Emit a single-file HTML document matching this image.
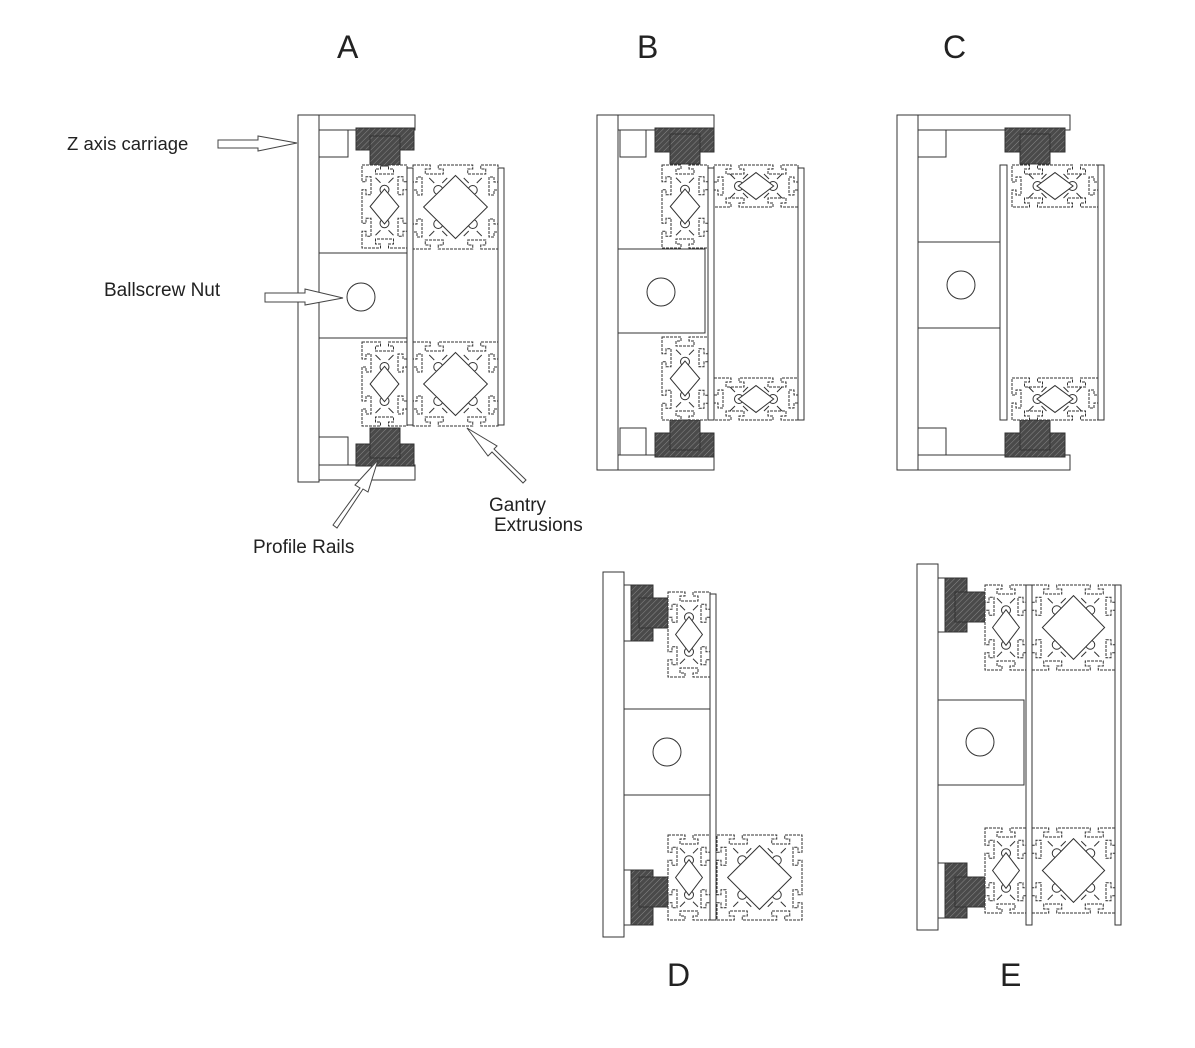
<!DOCTYPE html><html><head><meta charset="utf-8"><style>
html,body{margin:0;padding:0;background:#fff;width:1195px;height:1048px;overflow:hidden}
svg{display:block}
text{font-family:"Liberation Sans",sans-serif;fill:#222}
</style></head><body>
<svg id="s" width="1195" height="1048" viewBox="0 0 1195 1048" xmlns="http://www.w3.org/2000/svg">
<defs>
<pattern id="h" width="4" height="4" patternUnits="userSpaceOnUse" patternTransform="rotate(45)">
<rect width="4" height="4" fill="#4a4a4a"/><line x1="0" y1="0" x2="0" y2="4" stroke="#888" stroke-width="1"/>
</pattern>
</defs>
<g id="d" fill="#fff" stroke="#333" stroke-width="1"></g>
<g fill="#fff" stroke="#333" stroke-width="1">
<text x="337" y="58" font-size="32" stroke="none" fill="#222">A</text>
<text x="637" y="58" font-size="32" stroke="none" fill="#222">B</text>
<text x="943" y="58" font-size="32" stroke="none" fill="#222">C</text>
<text x="667" y="986" font-size="32" stroke="none" fill="#222">D</text>
<text x="1000" y="986" font-size="32" stroke="none" fill="#222">E</text>
<text x="67" y="150" font-size="18.5" stroke="none" fill="#222">Z axis carriage</text>
<text x="104" y="296" font-size="19" stroke="none" fill="#222">Ballscrew Nut</text>
<text x="253" y="553" font-size="19" stroke="none" fill="#222">Profile Rails</text>
<text x="489" y="511" font-size="19" stroke="none" fill="#222">Gantry</text>
<text x="494" y="531" font-size="19" stroke="none" fill="#222">Extrusions</text>
<path d="M218,140 H258 V136 L297,143 L258,151 V148 H218 Z" stroke="#444"/>
<path d="M265,293 H305 V289 L343,298 L305,305 V302 H265 Z" stroke="#444"/>
<path d="M333,525 L360,488 L355,485 L378,460 L368,492 L363,489 L337,528 Z" stroke="#444"/>
<path d="M523,483 L492,452 L488,456 L467,428 L497,446 L494,449 L526,480 Z" stroke="#444"/>
</g>
</svg>
<script>
var g=document.getElementById('d'),out='';
function R(x,y,w,h,f){out+='<rect x="'+x+'" y="'+y+'" width="'+w+'" height="'+h+'"'+(f?' fill="'+f+'"':'')+'/>';}
function C(x,y,r){out+='<circle cx="'+x+'" cy="'+y+'" r="'+r+'"/>';}
function rail(bx,by,bw,bh,rx,ry,rw,rh){R(bx,by,bw,bh,'url(#h)');R(rx,ry,rw,rh,'url(#h)');}
function ext(x,y,cols,rows,w,h){
 var sx=w/cols,sy=h/rows,d='';
 function slotH(x0,yy,dir,s){var m=x0+s/2;return ' L'+(m-4)+','+yy+' L'+(m-4)+','+(yy+dir*4)+' L'+(m-9)+','+(yy+dir*4)+' L'+(m-9)+','+(yy+dir*9)+' L'+(m+9)+','+(yy+dir*9)+' L'+(m+9)+','+(yy+dir*4)+' L'+(m+4)+','+(yy+dir*4)+' L'+(m+4)+','+yy;}
 function slotV(xx,y0,dir,s){var m=y0+s/2;return ' L'+xx+','+(m-4)+' L'+(xx+dir*4)+','+(m-4)+' L'+(xx+dir*4)+','+(m-9)+' L'+(xx+dir*9)+','+(m-9)+' L'+(xx+dir*9)+','+(m+9)+' L'+(xx+dir*4)+','+(m+9)+' L'+(xx+dir*4)+','+(m+4)+' L'+xx+','+(m+4);}
 d='M'+x+','+y;
 for(var i=0;i<cols;i++)d+=slotH(x+i*sx,y,1,sx);
 d+=' L'+(x+w)+','+y;
 for(var j=0;j<rows;j++)d+=slotV(x+w,y+j*sy,-1,sy);
 d+=' L'+(x+w)+','+(y+h);
 for(var i=cols-1;i>=0;i--){var m=x+i*sx+sx/2;d+=' L'+(m+4)+','+(y+h)+' L'+(m+4)+','+(y+h-4)+' L'+(m+9)+','+(y+h-4)+' L'+(m+9)+','+(y+h-9)+' L'+(m-9)+','+(y+h-9)+' L'+(m-9)+','+(y+h-4)+' L'+(m-4)+','+(y+h-4)+' L'+(m-4)+','+(y+h);}
 d+=' L'+x+','+(y+h);
 for(var j=rows-1;j>=0;j--){var m=y+j*sy+sy/2;d+=' L'+x+','+(m+4)+' L'+(x+4)+','+(m+4)+' L'+(x+4)+','+(m+9)+' L'+(x+9)+','+(m+9)+' L'+(x+9)+','+(m-9)+' L'+(x+4)+','+(m-9)+' L'+(x+4)+','+(m-4)+' L'+x+','+(m-4);}
 d+=' Z';
 out+='<path d="'+d+'" stroke-dasharray="3 1"/>';
 for(var i=0;i<cols;i++)for(var j=0;j<rows;j++){
  var cx=x+(i+0.5)*sx,cy=y+(j+0.5)*sy;
  var ox=cols>1?(i==0?4:-4):0, oy=rows>1?(j==0?4:-4):0;
  C(cx+ox,cy+oy,4.5);
  out+='<path d="M'+(cx+ox-9)+','+(cy+oy-12)+' l5,5 M'+(cx+ox+9)+','+(cy+oy-12)+' l-5,5 M'+(cx+ox-9)+','+(cy+oy+12)+' l5,-5 M'+(cx+ox+9)+','+(cy+oy+12)+' l-5,-5" fill="none"/>';
 }
 function dia(cx,cy,rx,ry){out+='<path d="M'+cx+','+(cy-ry)+' L'+(cx+rx)+','+cy+' L'+cx+','+(cy+ry)+' L'+(cx-rx)+','+cy+' Z"/>';}
 if(cols>1&&rows>1){dia(x+w/2,y+h/2,sx*0.75,sy*0.75);}
 else if(rows>1){for(var j=1;j<rows;j++)dia(x+w/2,y+j*sy,sx*0.32,sy*0.42);}
 else if(cols>1){for(var i=1;i<cols;i++)dia(x+i*sx,y+h/2,sx*0.42,sy*0.32);}
}
R(298,115,21,367);R(319,115,96,15);R(319,465,96,15);R(319,130,29,27);R(319,437,29,28);
rail(356,128,58,22,370,136,30,30);rail(356,444,58,22,370,428,30,30);
R(319,253,88,85);C(361,297,14);
ext(362,165,1,2,45,83);ext(413,165,2,2,85,84);ext(362,342,1,2,45,84);ext(413,342,2,2,85,84);
R(407,168,6,257);R(498,168,6,257);
R(597,115,21,355);R(618,115,96,15);R(618,455,96,15);R(620,130,26,27);R(620,428,26,27);
rail(655,128,59,24,670,134,30,30);rail(655,433,59,24,670,420,30,30);
R(618,249,87,84);C(661,292,14);
ext(662,165,1,2,46,83);ext(662,337,1,2,46,83);ext(714,165,2,1,84,42);ext(714,378,2,1,84,42);
R(708,168,6,252);R(798,168,6,252);
R(897,115,21,355);R(918,115,152,15);R(918,455,152,15);R(918,130,28,27);R(918,428,28,27);
rail(1005,128,60,24,1020,134,30,30);rail(1005,433,60,24,1020,420,30,30);
R(918,242,87,86);C(961,285,14);
ext(1012,165,2,1,86,42);ext(1012,378,2,1,86,42);
R(1000,165,7,255);R(1098,165,6,255);
R(603,572,21,365);
R(624,585,7,56);rail(631,585,22,56,639,598,29,30);R(624,870,7,55);rail(631,870,22,55,639,877,29,30);
R(624,709,86,86);C(667,752,14);
ext(668,592,1,2,42,85);ext(668,835,1,2,42,85);ext(717,835,2,2,85,85);
R(710,594,6,326);
R(917,564,21,366);
R(938,578,7,54);rail(945,578,22,54,955,592,30,30);R(938,863,7,55);rail(945,863,22,55,955,877,30,30);
R(938,700,86,85);C(980,742,14);
ext(985,585,1,2,42,85);ext(985,828,1,2,42,85);ext(1032,585,2,2,83,85);ext(1032,828,2,2,83,85);
R(1026,585,6,340);R(1115,585,6,340);
g.innerHTML=out;
</script>
</body></html>
